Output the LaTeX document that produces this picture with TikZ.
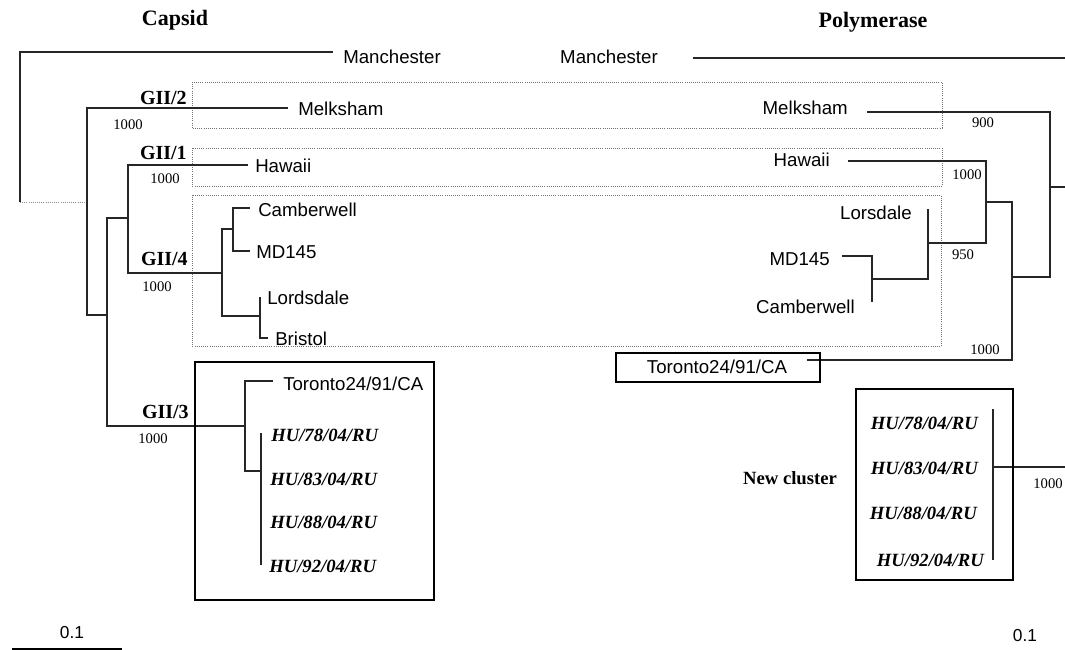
\documentclass[tikz,border=0pt]{standalone}
\usepackage{fontspec}
\setmainfont{Liberation Serif}
\newfontfamily\arialf{Liberation Sans}
\begin{document}
\begin{tikzpicture}[x=0.75pt,y=-0.75pt,
  br/.style={line width=0.9pt, black!85},
  faint/.style={line width=0.6pt, densely dotted, black!45},
  dbox/.style={line width=0.6pt, densely dotted, black!55},
  clbox/.style={line width=1.6pt},
  lab/.style={font=\arialf\fontsize{14}{16}\selectfont, inner sep=0pt},
  hu/.style={font=\bfseries\itshape\fontsize{14}{16}\selectfont, inner sep=0pt},
  gii/.style={font=\bfseries\fontsize{15}{17}\selectfont, inner sep=0pt},
  boot/.style={font=\fontsize{11}{13}\selectfont, inner sep=0pt},
  ttl/.style={font=\bfseries\fontsize{16.5}{19}\selectfont, inner sep=0pt},
  scl/.style={font=\arialf\fontsize{13}{15}\selectfont, inner sep=0pt}]
\useasboundingbox (0,0) rectangle (1065,650);

% titles
\node[ttl] (tcap) at (175,20) {Capsid};
\node[ttl] (tpol) at (873,22) {Polymerase};

% dotted cluster boxes
\draw[dbox] (192,82) rectangle (942,128);
\draw[dbox] (192,148) rectangle (942,186);
\draw[dbox] (192,195) rectangle (941,346);

% ---------- left tree (capsid) ----------
\coordinate (Lr) at (20,52);
\coordinate (Lrb) at (20,202);
\coordinate (Lman) at (333,52);
\coordinate (L1) at (87,202);
\coordinate (Lmel) at (288,108);
\coordinate (L1t) at (87,108);
\coordinate (L1b) at (87,315);
\coordinate (L2) at (107,315);
\coordinate (L2t) at (107,218);
\coordinate (L2b) at (107,426);
\coordinate (L3) at (128,218);
\coordinate (L3t) at (128,165);
\coordinate (L3b) at (128,273);
\coordinate (Lhaw) at (248,165);
\coordinate (L4) at (222,273);
\coordinate (L4t) at (222,229);
\coordinate (L4b) at (222,316);
\coordinate (L5) at (233,229);
\coordinate (L5t) at (233,208);
\coordinate (L5b) at (233,251);
\coordinate (Lcam) at (250,208);
\coordinate (Lmd) at (250,251);
\coordinate (L6) at (260,316);
\coordinate (L6t) at (260,297);
\coordinate (L6b) at (260,338);
\coordinate (Lbri) at (268,338);
\coordinate (L7) at (245,426);
\coordinate (L7t) at (245,381);
\coordinate (L7b) at (245,471);
\coordinate (Ltor) at (273,381);
\coordinate (L8) at (261,471);
\coordinate (L8t) at (261,433);
\coordinate (L8b) at (261,565);

\draw[br] (Lman) -- (Lr) -- (Lrb);
\draw[faint] (Lrb) -- (L1);
\draw[br] (Lmel) -- (L1t) -- (L1b) -- (L2);
\draw[br] (L3) -- (L2t) -- (L2b) -- (L7);
\draw[br] (Lhaw) -- (L3t) -- (L3b) -- (L4);
\draw[br] (L5) -- (L4t) -- (L4b) -- (L6);
\draw[br] (Lcam) -- (L5t) -- (L5b) -- (Lmd);
\draw[br] (L6t) -- (L6b) -- (Lbri);
\draw[br] (Ltor) -- (L7t) -- (L7b) -- (L8);
\draw[br] (L8t) -- (L8b);

\node[lab,anchor=west] (lman) at (343,57) {Manchester};
\node[lab,anchor=west] (lmel) at (298,109) {Melksham};
\node[lab,anchor=west] (lhaw) at (255,166) {Hawaii};
\node[lab,anchor=west] (lcam) at (258,210) {Camberwell};
\node[lab,anchor=west] (lmd) at (256,252) {MD145};
\node[lab,anchor=west] (llor) at (267,298) {Lordsdale};
\node[lab,anchor=west] (lbri) at (275,339) {Bristol};
\node[lab,anchor=west] (ltor) at (283,384) {Toronto24/91/CA};
\node[hu,anchor=west] (lhu1) at (271,435) {HU/78/04/RU};
\node[hu,anchor=west] (lhu2) at (270,479) {HU/83/04/RU};
\node[hu,anchor=west] (lhu3) at (270,522) {HU/88/04/RU};
\node[hu,anchor=west] (lhu4) at (269,566) {HU/92/04/RU};

\node[gii,anchor=east] (g2) at (187,98) {GII/2};
\node[boot] (b2) at (128,125) {1000};
\node[gii,anchor=east] (g1) at (187,153) {GII/1};
\node[boot] (b1) at (165,179) {1000};
\node[gii,anchor=east] (g4) at (188,259) {GII/4};
\node[boot] (b4) at (157,287) {1000};
\node[gii,anchor=east] (g3) at (189,412) {GII/3};
\node[boot] (b3) at (153,439) {1000};

\draw[clbox] (195,362) rectangle (434,600);

% scale bar left
\coordinate (s1) at (12,649);
\coordinate (s2) at (122,649);
\draw[line width=1pt] (s1) -- (s2);
\node[scl] (sl) at (72,633) {0.1};

% ---------- right tree (polymerase) ----------
\coordinate (Rman) at (693,58);
\coordinate (Rmane) at (1065,58);
\coordinate (Rmel) at (867,112);
\coordinate (R1t) at (1050,112);
\coordinate (R1b) at (1050,277);
\coordinate (R1) at (1050,187);
\coordinate (Rroot) at (1065,187);
\coordinate (Rhaw) at (848,161);
\coordinate (R2t) at (986,161);
\coordinate (R2b) at (986,243);
\coordinate (R2) at (986,202);
\coordinate (R3) at (1012,202);
\coordinate (R3m) at (1012,277);
\coordinate (R3b) at (1012,360);
\coordinate (R4) at (928,243);
\coordinate (R4t) at (928,209);
\coordinate (R4b) at (928,279);
\coordinate (R5) at (872,279);
\coordinate (R5t) at (872,256);
\coordinate (R5b) at (872,302);
\coordinate (Rmd) at (842,256);
\coordinate (Rtor) at (807,360);
\coordinate (R6t) at (993,409);
\coordinate (R6b) at (993,560);
\coordinate (R6) at (993,467);
\coordinate (R6e) at (1065,467);

\draw[br] (Rman) -- (Rmane);
\draw[br] (Rmel) -- (R1t) -- (R1b) -- (R3m);
\draw[br] (R1) -- (Rroot);
\draw[br] (Rhaw) -- (R2t) -- (R2b) -- (R4);
\draw[br] (R2) -- (R3) -- (R3b) -- (Rtor);
\draw[br] (R4t) -- (R4b) -- (R5);
\draw[br] (Rmd) -- (R5t) -- (R5b);
\draw[br] (R6t) -- (R6b);
\draw[br] (R6) -- (R6e);

\node[lab] (rman) at (609,57) {Manchester};
\node[lab,anchor=east] (rmel) at (848,108) {Melksham};
\node[lab,anchor=east] (rhaw) at (830,160) {Hawaii};
\node[lab,anchor=east] (rlor) at (912,213) {Lorsdale};
\node[lab,anchor=east] (rmd) at (830,259) {MD145};
\node[lab,anchor=east] (rcam) at (855,307) {Camberwell};
\node[lab] (rtor) at (717,367) {Toronto24/91/CA};
\draw[line width=1.3pt] (616,353) rectangle (820,382);

\node[boot] (r900) at (983,123) {900};
\node[boot] (r1000a) at (967,175) {1000};
\node[boot] (r950) at (963,255) {950};
\node[boot] (r1000b) at (985,350) {1000};
\node[boot] (r1000c) at (1048,484) {1000};

\draw[clbox] (856,389) rectangle (1013,580);
\node[hu,anchor=east] (rhu1) at (978,423) {HU/78/04/RU};
\node[hu,anchor=east] (rhu2) at (978,468) {HU/83/04/RU};
\node[hu,anchor=east] (rhu3) at (977,513) {HU/88/04/RU};
\node[hu,anchor=east] (rhu4) at (984,560) {HU/92/04/RU};
\node[font=\bfseries\fontsize{14}{16}\selectfont, inner sep=0pt] (newc) at (790,478) {New cluster};

\node[scl] (sr) at (1025,636) {0.1};
\end{tikzpicture}
\end{document}
